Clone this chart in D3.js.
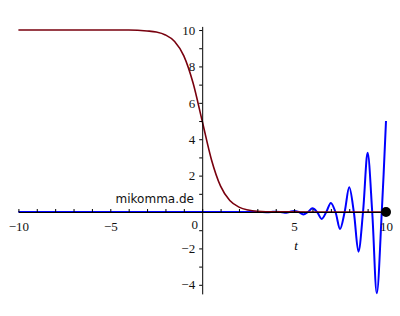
<!DOCTYPE html>
<html>
<head>
<meta charset="utf-8">
<script src="https://cdn.jsdelivr.net/npm/d3@7.9.0/dist/d3.min.js"></script>
<style>
  html, body { margin: 0; padding: 0; background: #fff; }
  svg { display: block; }
</style>
</head>
<body>
<svg width="400" height="316"></svg>
<script>
// values
const redT = [-10, -6, -4, -3, -2.5, -2, -1.5, -1, -0.5, 0, 0.5, 1, 1.5, 2, 2.5, 3, 4, 6, 10];
const redV = [10, 10, 10, 9.95, 9.89, 9.73, 9.37, 8.58, 7.1, 5, 2.89, 1.42, 0.63, 0.27, 0.11, 0.045, 0.01, 0, 0];

const blueT = [-10, 0, 3, 3.5, 3.75, 4, 4.25, 4.5, 4.75, 5, 5.25, 5.5, 5.75, 6, 6.25, 6.5, 6.75, 7, 7.25,
               7.5, 7.75, 8, 8.25, 8.5, 8.75, 9, 9.25, 9.5, 9.77, 10];
const blueV = [0, 0, 0, -0.01, 0, 0.02, 0, -0.04, 0, 0.06, 0, -0.13, 0, 0.2, 0, -0.38, 0, 0.5, 0,
               -0.93, 0, 1.36, 0, -2.18, 0, 3.25, 0, -4.47, 0, 5.0];

const xTicks = d3.range(-10, 11, 1);
const yTicks = d3.range(-4, 11, 1);
const xLabels = [-10, -5, 0, 5, 10];
const yLabels = [-4, -2, 2, 4, 6, 8, 10];
const endPoint = [10, 0];

const svg = d3.select('svg');

const x = d3.scaleLinear().domain([-10, 10]).range([18.4, 386]);
const y = d3.scaleLinear().domain([-4.5, 10.2]).range([293.9, 26.4]);

// curves
const line = d3.line()
  .x(d => x(d[0]))
  .y(d => y(d[1]))
  .curve(d3.curveCatmullRom.alpha(0.5));

svg.append('path')
  .datum(blueT.map((t, i) => [t, blueV[i]]))
  .attr('d', line)
  .attr('fill', 'none')
  .attr('stroke', '#0000ff')
  .attr('stroke-width', 2);

svg.append('path')
  .datum(redT.map((t, i) => [t, redV[i]]))
  .attr('d', d3.line().x(d => x(d[0])).y(d => y(d[1])).curve(d3.curveMonotoneX))
  .attr('fill', 'none')
  .attr('stroke', '#78000e')
  .attr('stroke-width', 1.6);

// axes
const xAxis = svg.append('g')
  .attr('transform', `translate(0,${y(0)})`)
  .call(d3.axisBottom(x)
    .tickValues(xTicks)
    .tickSize(-3)
    .tickSizeOuter(0)
    .tickPadding(10)
    .tickFormat(d => xLabels.includes(d) ? d3.format('d')(d) : ''));

const yAxis = svg.append('g')
  .attr('transform', `translate(${x(0)},0)`)
  .call(d3.axisLeft(y)
    .tickValues(yTicks)
    .tickSize(3)
    .tickSizeOuter(0)
    .tickPadding(4)
    .tickFormat(d => yLabels.includes(d) ? d3.format('d')(d) : ''));

[xAxis, yAxis].forEach(g => {
  g.attr('font-family', '"Liberation Serif", "Times New Roman", serif')
   .attr('font-size', 13);
  g.selectAll('path, line').attr('stroke', '#000');
  g.selectAll('text').attr('fill', '#111');
});

// the 0 label sits left of the y axis
xAxis.selectAll('.tick text')
  .filter(d => d === 0)
  .attr('x', -8)
  .attr('y', 8);

svg.append('text')
  .attr('x', 296)
  .attr('y', 250)
  .attr('text-anchor', 'middle')
  .attr('font-family', '"Liberation Serif", "Times New Roman", serif')
  .attr('font-style', 'italic')
  .attr('font-size', 13)
  .text('t');

svg.append('text')
  .attr('x', 194)
  .attr('y', 203)
  .attr('text-anchor', 'end')
  .attr('font-family', '"DejaVu Sans", Verdana, sans-serif')
  .attr('font-size', 12)
  .attr('fill', '#111')
  .text('mikomma.de');

svg.append('circle')
  .attr('cx', x(endPoint[0]))
  .attr('cy', y(endPoint[1]))
  .attr('r', 5)
  .attr('fill', '#000');
</script>
</body>
</html>
